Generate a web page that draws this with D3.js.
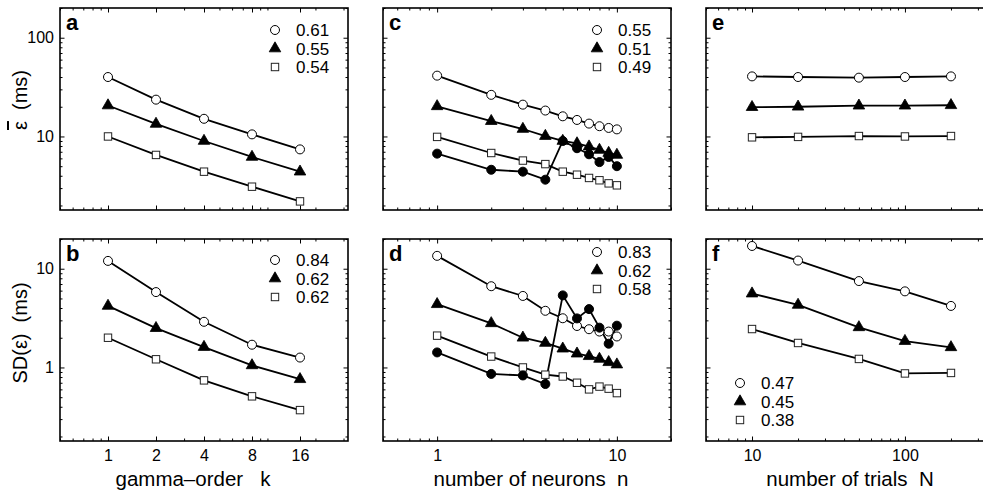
<!DOCTYPE html>
<html>
<head>
<meta charset="utf-8">
<script src="https://cdn.jsdelivr.net/npm/d3@7/dist/d3.min.js"></script>
<style>
body { margin: 0; background: #fff; }
text { font-family: "Liberation Sans", Arial, Helvetica, sans-serif; fill: #000; white-space: pre; }
</style>
</head>
<body>
<svg id="chart" width="983" height="493"></svg>
<script>
// x values
var gammaK = [1, 2, 4, 8, 16];
var neuronsN = [1, 2, 3, 4, 5, 6, 7, 8, 9, 10];
var trialsN = [10, 20, 50, 100, 200];

// panel a / b : mean error and SD vs gamma order
var aCircle = [40, 23.6, 15.1, 10.5, 7.4];
var aTri = [20.6, 13.4, 9.0, 6.2, 4.4];
var aSquare = [10.0, 6.5, 4.4, 3.1, 2.2];
var bCircle = [12.0, 5.8, 2.9, 1.7, 1.26];
var bTri = [4.2, 2.5, 1.61, 1.05, 0.76];
var bSquare = [2.0, 1.21, 0.74, 0.51, 0.37];

// panel c / d : vs number of neurons
var cCircle = [41.3, 26.4, 21.0, 18.3, 16.0, 14.7, 13.5, 12.7, 12.2, 11.8];
var cTri = [20.2, 14.3, 11.9, 10.1, 9.0, 8.5, 7.9, 7.3, 6.8, 6.5];
var cSquare = [9.9, 6.8, 5.7, 5.25, 4.4, 4.1, 3.8, 3.6, 3.35, 3.2];
var cDot = [6.7, 4.6, 4.4, 3.65, 9.0, 7.6, 6.6, 5.5, 6.2, 5.0];
var dCircle = [13.5, 6.65, 5.3, 3.75, 3.15, 2.63, 2.44, 2.31, 2.31, 2.06];
var dTri = [4.37, 2.8, 2.0, 1.77, 1.55, 1.38, 1.3, 1.22, 1.13, 1.07];
var dSquare = [2.1, 1.29, 1.0, 0.845, 0.81, 0.7, 0.6, 0.64, 0.61, 0.55];
var dDot = [1.42, 0.86, 0.83, 0.68, 5.37, 3.14, 3.9, 2.53, 1.74, 2.65];

// panel e / f : vs number of trials
var eCircle = [40.6, 40, 39.4, 40, 40.6];
var eTri = [19.8, 20.0, 20.5, 20.5, 20.7];
var eSquare = [9.8, 9.9, 10.1, 10.0, 10.1];
var fCircle = [17.0, 12.1, 7.5, 5.9, 4.2];
var fTri = [5.6, 4.3, 2.55, 1.85, 1.6];
var fSquare = [2.45, 1.77, 1.22, 0.87, 0.88];

// legend numbers
var aLegend = ["0.61", "0.55", "0.54"];
var bLegend = ["0.84", "0.62", "0.62"];
var cLegend = ["0.55", "0.51", "0.49"];
var dLegend = ["0.83", "0.62", "0.58"];
var fLegend = ["0.47", "0.45", "0.38"];

// tick labels
var kTicks = [1, 2, 4, 8, 16];
var nTicks = [1, 10];
var trialTicks = [10, 100];
var topYTicks = [10, 100];
var botYTicks = [1, 10];

var svg = d3.select("#chart");

var col = [
	{x0: 60, x1: 348, dom: [0.5, 32], xs: gammaK, major: kTicks, title: "gamma\u2013order   k", tx: 193},
	{x0: 383, x1: 671, dom: [0.5, 20], xs: neuronsN, major: nTicks, title: "number of neurons  n", tx: 531},
	{x0: 706, x1: 997, dom: [5, 400], xs: trialsN, major: trialTicks, title: "number of trials  N", tx: 850}
];
var row = [
	{y0: 8, y1: 210, dom: [1.8, 200], major: topYTicks},
	{y0: 239, y1: 441, dom: [0.18, 20], major: botYTicks}
];

function isDecade(v) {
	var l = Math.log10(v);
	return Math.abs(l - Math.round(l)) < 1e-9;
}

function marker(g, type, x, y) {
	if (type == "circle" || type == "dot") {
		g.append("circle").attr("cx", x).attr("cy", y).attr("r", 4.5)
			.attr("fill", type == "dot" ? "#000" : "#fff")
			.attr("stroke", "#000").attr("stroke-width", 1);
	} else if (type == "tri") {
		g.append("path").attr("transform", "translate(" + x + "," + y + ")")
			.attr("d", d3.symbol().type(d3.symbolTriangle).size(58)())
			.attr("fill", "#000").attr("stroke", "#000").attr("stroke-width", 0.8);
	} else {
		g.append("rect").attr("x", x - 3.7).attr("y", y - 3.7).attr("width", 7.4).attr("height", 7.4)
			.attr("fill", "#fff").attr("stroke", "#222").attr("stroke-width", 1);
	}
}

function drawPanel(p) {
	var c = col[p.col], r = row[p.row];
	var x = d3.scaleLog().domain(c.dom).range([c.x0, c.x1]);
	var y = d3.scaleLog().domain(r.dom).range([r.y1, r.y0]);
	var g = svg.append("g");

	// ticks, inward on all four sides
	var xMinor = x.ticks().filter(function (v) { return c.major.indexOf(v) < 0; });
	var yMinor = y.ticks().filter(function (v) { return !isDecade(v); });
	var yMajor = y.ticks().filter(isDecade);

	function ticks(axis, tr, vals, len) {
		var a = g.append("g").attr("transform", tr)
			.call(axis.tickValues(vals).tickSize(-len).tickFormat(""));
		a.select(".domain").remove();
		a.selectAll("line").attr("stroke", "#000").attr("stroke-width", 1);
	}
	ticks(d3.axisBottom(x), "translate(0," + r.y1 + ")", xMinor, 2.5);
	ticks(d3.axisBottom(x), "translate(0," + r.y1 + ")", c.major, 4.5);
	ticks(d3.axisTop(x), "translate(0," + r.y0 + ")", xMinor, 2.5);
	ticks(d3.axisTop(x), "translate(0," + r.y0 + ")", c.major, 4.5);
	ticks(d3.axisLeft(y), "translate(" + c.x0 + ",0)", yMinor, 2.5);
	ticks(d3.axisLeft(y), "translate(" + c.x0 + ",0)", yMajor, 4.5);
	ticks(d3.axisRight(y), "translate(" + c.x1 + ",0)", yMinor, 2.5);
	ticks(d3.axisRight(y), "translate(" + c.x1 + ",0)", yMajor, 4.5);

	g.append("rect").attr("x", c.x0).attr("y", r.y0)
		.attr("width", c.x1 - c.x0).attr("height", r.y1 - r.y0)
		.attr("fill", "none").attr("stroke", "#000").attr("stroke-width", 1.6);

	// tick labels on the outer edges only
	if (p.row == 1) {
		var ax = g.append("g").attr("transform", "translate(0," + r.y1 + ")")
			.call(d3.axisBottom(x).tickValues(c.major).tickSize(0).tickPadding(9).tickFormat(d3.format("d")));
		ax.select(".domain").remove();
		ax.selectAll("text").attr("font-size", 16).style("font-family", null);
		g.append("text").attr("x", c.tx).attr("y", 486).attr("text-anchor", "middle")
			.attr("font-size", 20.5).text(c.title);
	}
	if (p.col == 0) {
		var ay = g.append("g").attr("transform", "translate(" + (c.x0 - 4) + ",0)")
			.call(d3.axisLeft(y).tickValues(r.major).tickSize(0).tickPadding(2).tickFormat(d3.format("d")));
		ay.select(".domain").remove();
		ay.selectAll("text").attr("font-size", 16).style("font-family", null);
	}

	// series
	var line = d3.line().x(function (d) { return x(d[0]); }).y(function (d) { return y(d[1]); });
	p.series.forEach(function (s) {
		var pts = c.xs.map(function (v, i) { return [v, s.values[i]]; });
		g.append("path").attr("d", line(pts)).attr("fill", "none")
			.attr("stroke", "#000").attr("stroke-width", 1.8);
	});
	p.series.forEach(function (s) {
		c.xs.forEach(function (v, i) { marker(g, s.type, x(v), y(s.values[i])); });
	});

	// panel letter
	g.append("text").attr("x", c.x0 + 6).attr("y", r.y0 + 22)
		.attr("font-size", 22).attr("font-weight", "bold").text(p.letter);

	// legend
	if (p.legend) {
		var types = ["circle", "tri", "square"];
		p.legend.labels.forEach(function (t, i) {
			var ly = p.legend.y + i * 18.5;
			marker(g, types[i], p.legend.x, ly);
			g.append("text").attr("x", p.legend.x + 21).attr("y", ly + 6)
				.attr("font-size", 17).text(t);
		});
	}
}

drawPanel({col: 0, row: 0, letter: "a", legend: {x: 275, y: 30, labels: aLegend},
	series: [{type: "circle", values: aCircle}, {type: "tri", values: aTri}, {type: "square", values: aSquare}]});
drawPanel({col: 0, row: 1, letter: "b", legend: {x: 275, y: 260, labels: bLegend},
	series: [{type: "circle", values: bCircle}, {type: "tri", values: bTri}, {type: "square", values: bSquare}]});
drawPanel({col: 1, row: 0, letter: "c", legend: {x: 597, y: 30, labels: cLegend},
	series: [{type: "circle", values: cCircle}, {type: "tri", values: cTri}, {type: "square", values: cSquare}, {type: "dot", values: cDot}]});
drawPanel({col: 1, row: 1, letter: "d", legend: {x: 597, y: 252, labels: dLegend},
	series: [{type: "circle", values: dCircle}, {type: "tri", values: dTri}, {type: "square", values: dSquare}, {type: "dot", values: dDot}]});
drawPanel({col: 2, row: 0, letter: "e",
	series: [{type: "circle", values: eCircle}, {type: "tri", values: eTri}, {type: "square", values: eSquare}]});
drawPanel({col: 2, row: 1, letter: "f", legend: {x: 740, y: 383, labels: fLegend},
	series: [{type: "circle", values: fCircle}, {type: "tri", values: fTri}, {type: "square", values: fSquare}]});

// y axis titles
var t1 = svg.append("text").attr("transform", "translate(27,100) rotate(-90)")
	.attr("text-anchor", "middle").attr("font-size", 20);
t1.append("tspan").style("text-decoration", "overline").text("\u03b5");
t1.append("tspan").text("  (ms)");
svg.append("text").attr("transform", "translate(27,333) rotate(-90)")
	.attr("text-anchor", "middle").attr("font-size", 20).text("SD(\u03b5)  (ms)");
</script>
</body>
</html>
